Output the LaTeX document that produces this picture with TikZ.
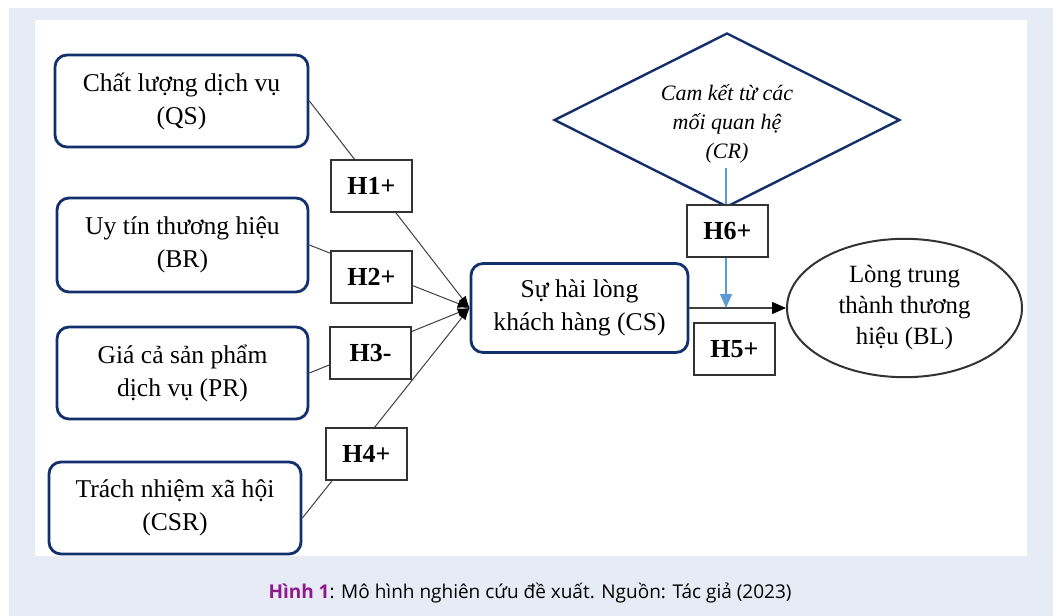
\documentclass[tikz,border=0pt]{standalone}
\usepackage{fontspec}
\setmainfont{Liberation Serif}
\newfontfamily\capfont{Open Sans}
\usetikzlibrary{positioning}
\usetikzlibrary{calc}
\usetikzlibrary{shapes.geometric}
\usetikzlibrary{arrows.meta}
\definecolor{navy}{HTML}{12306C}
\definecolor{panel}{HTML}{E7EBF5}
\definecolor{plum}{HTML}{8E1A8E}
\definecolor{skyline}{HTML}{5B9BD5}

\begin{document}
\begin{tikzpicture}[x=0.5pt, y=-0.5pt,
            factor/.style={draw=navy, line width=1.4pt, rounded corners=6pt, fill=white,
                minimum height=46pt, align=center, font=\fontsize{12.8}{16.5}\selectfont},
            hyp/.style={draw=black!80, line width=0.6pt, fill=white, minimum width=40.5pt,
                minimum height=26pt, font=\fontsize{13}{15}\selectfont\bfseries},
            link/.style={draw=black!75, line width=0.5pt, -{Latex[length=6pt, width=4.5pt, black]}}]
            \useasboundingbox (0, 0) rectangle (1061, 616);
            \fill[panel] (9, 8) rectangle (1053, 616);
            \fill[white] (35, 20) rectangle (1027, 556);

            \node[factor, minimum width=126.5pt] (qs) at (181.5, 101) {Chất lượng dịch vụ\\(QS)};
            \node[factor, minimum width=125.5pt, minimum height=47pt] (br) at (182.5, 245) {Uy tín thương hiệu\\(BR)};
            \node[factor, minimum width=125.5pt] (pr) at (182.5, 373) {Giá cả sản phẩm\\dịch vụ (PR)};
            \node[factor, minimum width=126pt] (csr) at (175, 508) {Trách nhiệm xã hội\\(CSR)};
            \node[factor, minimum width=108.5pt, minimum height=44.5pt] (cs) at (579.5, 308) {Sự hài lòng\\khách hàng (CS)};

            \node[diamond, draw=navy, line width=1.2pt, minimum width=170pt, minimum height=87pt,
                aspect=2, align=center, font=\fontsize{11}{14.5}\selectfont\itshape] (cr) at (727, 120)
                {\rule{0pt}{12pt}Cam kết từ các\\mối quan hệ\\(CR)};
            \node[ellipse, draw=black!80, line width=1pt, minimum width=117.5pt, minimum height=63.5pt,
                align=center, font=\fontsize{12.4}{15.5}\selectfont] (bl) at (904.5, 308)
                {Lòng trung\\thành thương\\hiệu (BL)};

            \coordinate (crfoot) at (726, 168);
            \coordinate (join) at (726, 308);

            \draw[link] (qs.east) -- (cs.west);
            \draw[link] (br.east) -- (cs.west);
            \draw[link] (pr.east) -- (cs.west);
            \draw[link] ([yshift=-5pt]csr.east) -- (cs.west);
            \draw[draw=black!75, line width=0.6pt, -{Triangle[length=7pt, width=6pt, black]}] (cs.east) -- (bl.west);
            \draw[skyline, line width=0.6pt, -{Triangle[length=7pt, width=6pt]}] (crfoot) -- (join);

            \node[hyp] (h1) at (371.5, 186) {H1+};
            \node[hyp] (h2) at (371.5, 277) {H2+};
            \node[hyp] (h3) at (370.5, 353) {H3-};
            \node[hyp] (h4) at (366.5, 454) {H4+};
            \node[hyp] (h6) at (727.5, 231) {H6+};
            \node[hyp] (h5) at (734.5, 349) {H5+};

            \node (caption) at (530, 593) {\capfont\fontsize{9.5}{12}\selectfont\textcolor{plum}{\bfseries Hình 1}: Mô hình nghiên cứu đề xuất. Nguồn: Tác giả (2023)};

          \end{tikzpicture}
\end{document}
